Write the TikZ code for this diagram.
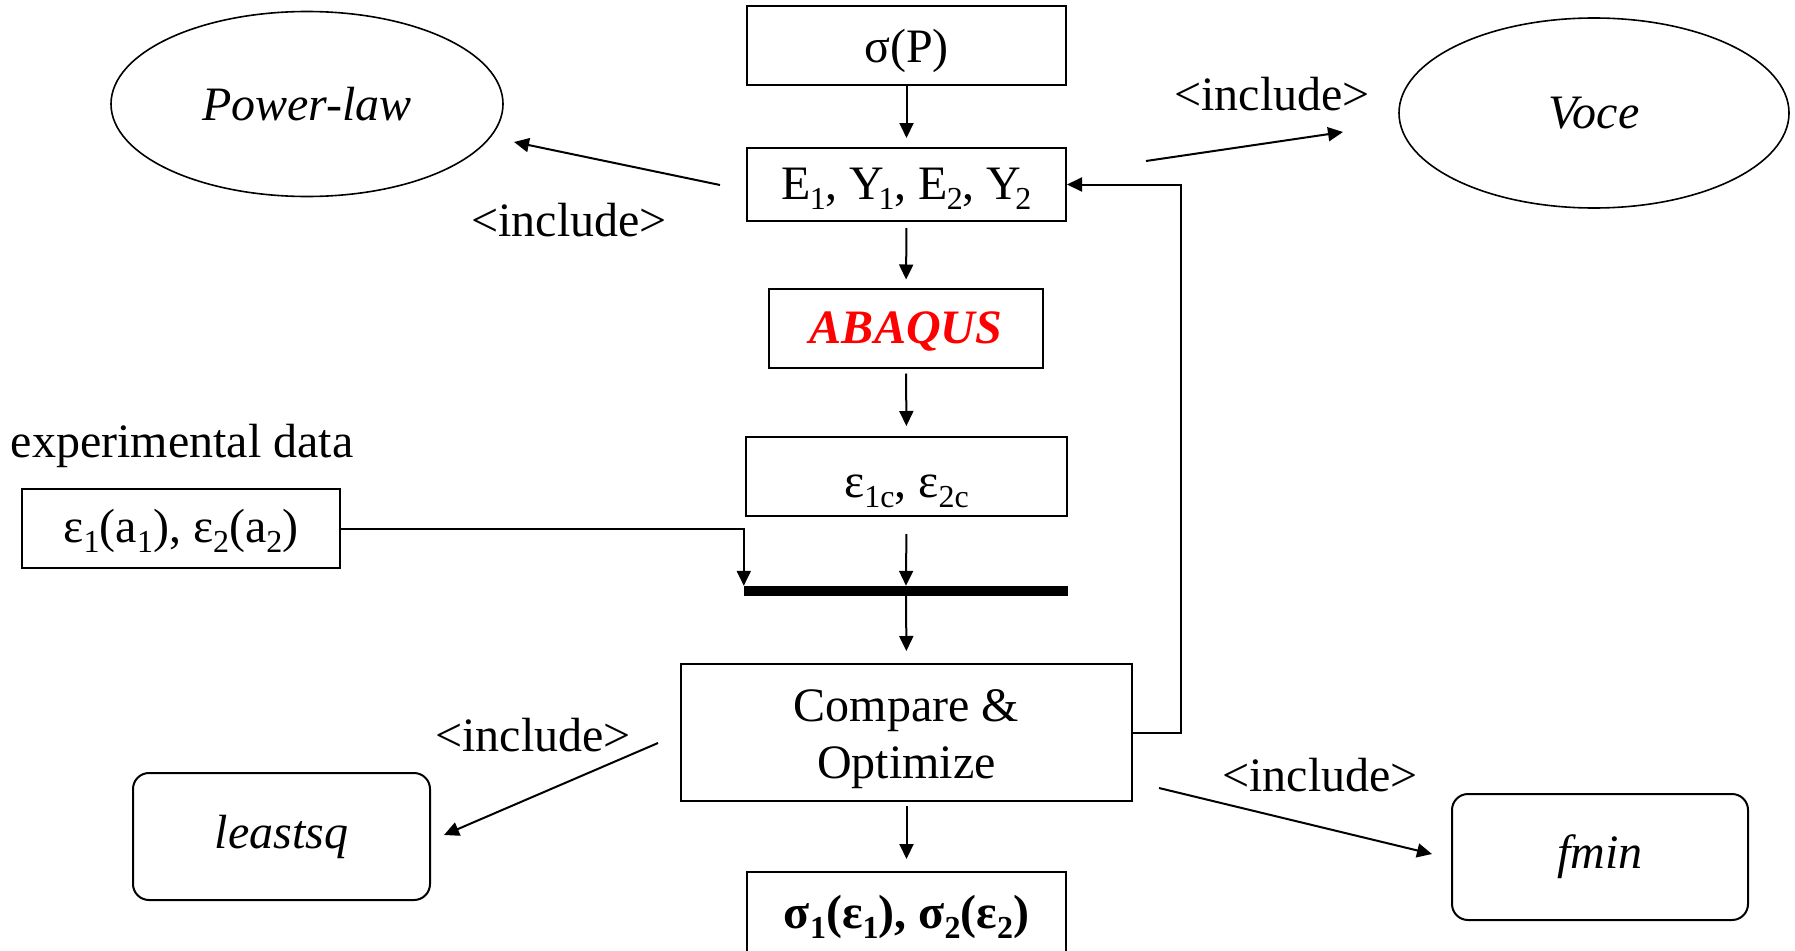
\documentclass[tikz,border=0pt]{standalone}
\usepackage{fontspec}
\setmainfont{Liberation Serif}
\usetikzlibrary{arrows.meta,shapes.geometric}
\newcommand\sbs[1]{\raisebox{-10pt}{\fontsize{32}{32}\selectfont #1}}
\begin{document}
\begin{tikzpicture}[x=1pt,y=-1pt,
  every node/.style={font=\fontsize{48}{57}\selectfont, inner sep=0pt},
  box/.style={draw, line width=2pt, rectangle},
  rbox/.style={draw, line width=2pt, rectangle, rounded corners=16pt},
  ell/.style={draw, line width=1.6pt, ellipse},
  arr/.style={line width=2pt, -{Triangle[length=15pt,width=14pt]}},
  ln/.style={line width=2pt}]
\useasboundingbox (0,0) rectangle (1795,950);

% main column
\node[box, minimum width=319pt, minimum height=79pt, text height=43pt, text depth=8pt] (sp) at (906.5,45.5) {σ(P)};
\node[box, minimum width=319pt, minimum height=73pt, text height=38pt, text depth=8pt] (E) at (906.5,184.5) {E\kern-1pt\sbs{1}, Y\kern-6pt\sbs{1}, E\kern-1pt\sbs{2}, Y\kern-6pt\sbs{2}};
\node[box, minimum width=274pt, minimum height=79pt, text height=39pt, text depth=8pt, text=red, font=\fontsize{48}{57}\selectfont\bfseries\itshape] (ab) at (906,328) {ABAQUS};
\node[box, minimum width=321pt, minimum height=79pt, text height=48pt, text depth=7pt] (ec) at (906.5,476.5) {ε\sbs{1c}, ε\sbs{2c}};
\node[box, minimum width=318pt, minimum height=79pt, text height=36pt, text depth=8pt] (ea) at (181,528.5) {ε\sbs{1}(a\sbs{1}), ε\sbs{2}(a\sbs{2})};
\node[anchor=center] (exp) at (182,446) {experimental data};
\node[fill=black, minimum width=324pt, minimum height=10pt] (bar) at (906,591) {};
\node[box, minimum width=451pt, minimum height=137pt] (cmp) at (906.5,732.5) {};
\node[align=center] (cmpt) at ([yshift=-7pt]cmp.center) {Compare \&\\Optimize};
\node[box, minimum width=319pt, minimum height=80pt, text height=40pt, text depth=8pt, font=\fontsize{48}{57}\selectfont\bfseries] (out) at (906.5,912) {σ\sbs{1}(ε\sbs{1}), σ\sbs{2}(ε\sbs{2})};

% side nodes
\node[ell, minimum width=392pt, minimum height=185pt, font=\fontsize{48}{57}\selectfont\itshape] (pl) at (307,104) {Power-law};
\node[ell, minimum width=390pt, minimum height=190pt, font=\fontsize{48}{57}\selectfont\itshape] (vo) at (1594,113) {Voce};
\node[rbox, minimum width=297pt, minimum height=127pt, font=\fontsize{48}{57}\selectfont\itshape] (ls) at (281.5,836.5) {leastsq};
\node[rbox, minimum width=296pt, minimum height=126pt, font=\fontsize{48}{57}\selectfont\itshape] (fm) at (1600,857) {fmin};

% include labels
\node (i1) at (569,220) {<include>};
\node (i2) at (1272,94) {<include>};
\node (i3) at (533,735) {<include>};
\node (i4) at (1320,775) {<include>};

% main flow arrows
\draw[arr, shorten >=9pt] (sp.south) -- (E.north);
\draw[arr, shorten <=6pt, shorten >=8pt] (E.south) -- (ab.north);
\draw[arr, shorten <=5pt, shorten >=10pt] (ab.south) -- (ec.north);
\draw[arr, shorten <=17pt] (ec.south) -- (bar.north);
\draw[arr, shorten >=12pt] (bar.south) -- (cmp.north);
\draw[arr, shorten <=4pt, shorten >=12pt] (cmp.south) -- (out.north);
\draw[arr] (ea.east) -| (bar.north west);
\draw[arr] (cmp.east) -- ++(48,0) |- (E.east);

% include arrows
\coordinate (p1) at (514,142);
\coordinate (p2) at (1343,132);
\coordinate (p3) at (444,835);
\coordinate (p4) at (1432,854);
\draw[arr] ([shift={(-26,0.5)}]E.west) -- (p1);
\draw[arr] ([shift={(79,-23.5)}]E.east) -- (p2);
\draw[arr] ([shift={(-22,10.5)}]cmp.west) -- (p3);
\draw[arr] ([shift={(26,55.5)}]cmp.east) -- (p4);
\end{tikzpicture}
\end{document}
